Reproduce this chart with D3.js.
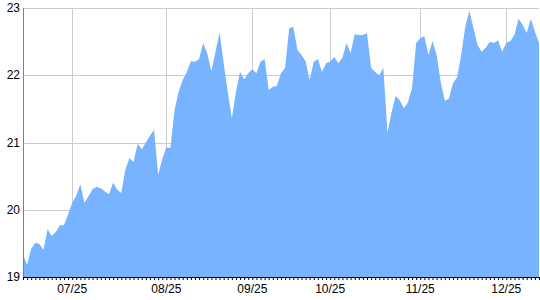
<!DOCTYPE html>
<html lang="en">
<head>
<meta charset="utf-8">
<title>Area</title>
<script src="https://cdn.jsdelivr.net/npm/d3@7"></script>
<style>
  body { margin: 0; background: #fff; }
  text { font-family: "Liberation Sans", Arial, sans-serif; }
</style>
</head>
<body>
<script>
// daily values (one per trading day)
var values = [
  19.33, 19.18, 19.42, 19.51, 19.49, 19.40, 19.71, 19.61, 19.67, 19.77,
  19.77, 19.93, 20.10, 20.21, 20.38, 20.10, 20.20, 20.31, 20.34, 20.32,
  20.27, 20.23, 20.40, 20.30, 20.25, 20.60, 20.77, 20.71, 20.98, 20.90,
  21.00, 21.10, 21.19, 20.52, 20.75, 20.93, 20.92, 21.48, 21.75, 21.93,
  22.05, 22.21, 22.20, 22.24, 22.48, 22.32, 22.06, 22.35, 22.64, 22.18,
  21.75, 21.36, 21.75, 22.05, 21.94, 22.03, 22.09, 22.03, 22.20, 22.24,
  21.78, 21.83, 21.84, 22.03, 22.11, 22.70, 22.72, 22.38, 22.30, 22.21,
  21.93, 22.20, 22.24, 22.05, 22.18, 22.20, 22.27, 22.18, 22.26, 22.48,
  22.33, 22.61, 22.60, 22.60, 22.63, 22.11, 22.05, 22.00, 22.11, 21.14,
  21.45, 21.69, 21.63, 21.51, 21.60, 21.81, 22.48, 22.55, 22.58, 22.30,
  22.51, 22.30, 21.90, 21.62, 21.65, 21.88, 21.97, 22.30, 22.72, 22.96,
  22.70, 22.45, 22.35, 22.41, 22.50, 22.48, 22.52, 22.35, 22.48, 22.51,
  22.60, 22.84, 22.75, 22.63, 22.84, 22.65, 22.48
];
var monthIdx = [12, 35, 56, 75, 97, 118];
var monthLabels = ["07/25", "08/25", "09/25", "10/25", "11/25", "12/25"];
var yTicks = [19, 20, 21, 22, 23];

var W = 540, H = 300;
// note: "top" is reserved on window, so use other names
var mLeft = 23, mRight = 539, mTop = 8, mBottom = 277;

var svg = d3.select("body").append("svg")
            .attr("width", W)
            .attr("height", H);

var x = d3.scaleLinear().domain([0, values.length - 1]).range([mLeft, mRight]);
var y = d3.scaleLinear().domain([19, 23]).range([mBottom, mTop]);

// grid
svg.append("g").selectAll("line")
   .data(yTicks).enter().append("line")
   .attr("x1", mLeft).attr("x2", mRight)
   .attr("y1", function(d){ return Math.round(y(d)) + 0.5; })
   .attr("y2", function(d){ return Math.round(y(d)) + 0.5; })
   .attr("stroke", "#cccccc");

svg.append("g").selectAll("line")
   .data(monthIdx).enter().append("line")
   .attr("x1", function(d){ return Math.round(x(d)) + 0.5; })
   .attr("x2", function(d){ return Math.round(x(d)) + 0.5; })
   .attr("y1", mTop).attr("y2", mBottom)
   .attr("stroke", "#cccccc");

// area
var area = d3.area()
             .x(function(d, i){ return x(i); })
             .y0(mBottom)
             .y1(function(d){ return y(d); });

svg.append("path")
   .datum(values)
   .attr("d", area)
   .attr("fill", "#77b3ff");

// left axis line
svg.append("line")
   .attr("x1", mLeft + 0.5).attr("x2", mLeft + 0.5)
   .attr("y1", mTop).attr("y2", mBottom)
   .attr("stroke", "#808080");

// y labels
svg.append("g").selectAll("text")
   .data(yTicks).enter().append("text")
   .attr("x", 20)
   .attr("y", function(d){ return y(d) + 4; })
   .attr("text-anchor", "end")
   .attr("font-size", 12)
   .attr("fill", "#000")
   .text(function(d){ return d; });

// bottom axis: one tick per day
var xAxis = d3.axisBottom(x)
              .tickValues(d3.range(values.length))
              .tickSize(3)
              .tickFormat("");
var gx = svg.append("g")
            .attr("transform", "translate(0," + mBottom + ")")
            .call(xAxis);
gx.select(".domain").attr("stroke", "#000");
gx.selectAll(".tick line").attr("stroke", "#000");

svg.append("g").selectAll("text")
   .data(monthIdx).enter().append("text")
   .attr("x", function(d){ return x(d); })
   .attr("y", mBottom + 16)
   .attr("text-anchor", "middle")
   .attr("font-size", 12)
   .attr("fill", "#000")
   .text(function(d, i){ return monthLabels[i]; });
</script>
</body>
</html>
